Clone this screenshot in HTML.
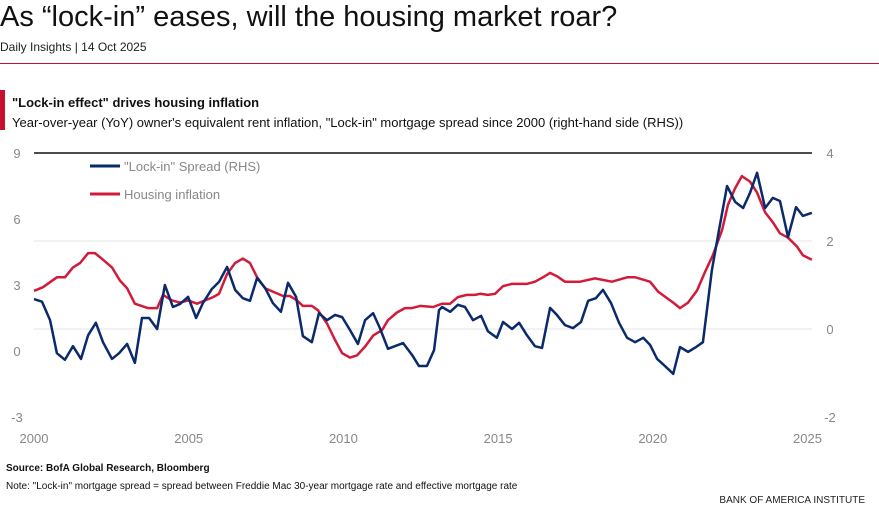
<!DOCTYPE html>
<html><head><meta charset="utf-8"><style>
body{margin:0;width:879px;height:522px;background:#fff;font-family:"Liberation Sans",sans-serif;overflow:hidden;position:relative}
.t{position:absolute;white-space:nowrap}
</style></head><body>
<div class="t" style="left:0;top:1px;font-size:29px;color:#111">As “lock-in” eases, will the housing market roar?</div>
<div class="t" style="left:0;top:40px;font-size:12px;color:#222">Daily Insights | 14 Oct 2025</div>
<div style="position:absolute;left:0;top:63px;width:879px;height:1px;background:#c8102e"></div>
<div style="position:absolute;left:0;top:90px;width:5px;height:40px;background:#c8102e"></div>
<div class="t" style="left:12px;top:95px;font-size:13px;font-weight:bold;color:#111">"Lock-in effect" drives housing inflation</div>
<div class="t" style="left:12px;top:115px;font-size:13px;color:#111">Year-over-year (YoY) owner's equivalent rent inflation, "Lock-in" mortgage spread since 2000 (right-hand side (RHS))</div>
<svg id="chart" width="879" height="522" style="position:absolute;left:0;top:0"></svg>
<div class="t" style="left:6px;top:463px;font-size:10px;font-weight:bold;color:#111">Source: BofA Global Research, Bloomberg</div>
<div class="t" style="left:6px;top:481px;font-size:10px;color:#111">Note: "Lock-in" mortgage spread = spread between Freddie Mac 30-year mortgage rate and effective mortgage rate</div>
<div class="t" style="right:14px;top:495px;font-size:10px;color:#222">BANK OF AMERICA INSTITUTE</div>
<script>
const redT=[0,.29,.74,1.00,1.26,1.49,1.75,1.97,2.23,2.52,2.78,3.01,3.26,3.68,3.98,4.17,4.46,4.72,4.98,5.27,5.53,5.79,5.98,6.24,6.50,6.75,6.98,7.21,7.47,7.72,8.05,8.27,8.50,8.69,8.98,9.18,9.47,9.73,9.96,10.21,10.44,10.70,10.96,11.25,11.44,11.73,11.99,12.22,12.48,12.90,13.19,13.45,13.70,13.99,14.25,14.42,14.67,14.90,15.16,15.45,15.93,16.19,16.45,16.68,16.90,17.16,17.65,18.13,18.68,19.17,19.43,19.91,20.17,20.66,20.88,21.14,21.43,21.69,21.94,22.24,22.43,22.66,22.88,23.14,23.37,23.63,23.88,24.11,24.37,24.66,24.85,25.14];
const redV=[2.73,2.9,3.35,3.35,3.8,4.0,4.45,4.45,4.15,3.8,3.2,2.85,2.15,1.95,1.95,2.55,2.3,2.2,2.3,2.15,2.3,2.45,2.6,3.5,4.0,4.2,4.0,3.35,2.85,2.7,2.5,2.5,2.3,2.05,2.05,1.85,1.25,0.5,-0.1,-0.3,-0.2,0.2,0.7,0.95,1.4,1.75,1.95,1.95,2.05,2.0,2.15,2.15,2.45,2.55,2.55,2.6,2.55,2.6,2.95,3.05,3.05,3.15,3.35,3.55,3.4,3.15,3.15,3.3,3.15,3.35,3.35,3.15,2.7,2.2,1.95,2.2,2.75,3.6,4.35,5.5,6.65,7.4,7.95,7.7,7.2,6.3,5.85,5.35,5.15,4.75,4.35,4.15];
const blueT=[0,.26,.52,.74,1.00,1.26,1.52,1.75,2.00,2.23,2.52,2.75,3.01,3.26,3.49,3.72,3.98,4.23,4.49,4.72,4.98,5.24,5.46,5.75,5.98,6.24,6.50,6.75,6.98,7.21,7.47,7.72,7.98,8.21,8.47,8.69,8.98,9.21,9.47,9.73,9.96,10.21,10.47,10.70,10.96,11.18,11.44,11.93,12.22,12.44,12.70,12.93,13.09,13.19,13.45,13.70,13.93,14.19,14.45,14.67,14.96,15.16,15.45,15.68,15.93,16.19,16.42,16.68,16.90,17.16,17.42,17.68,17.91,18.16,18.39,18.65,18.91,19.17,19.43,19.69,19.91,20.14,20.39,20.66,20.88,21.14,21.40,21.62,21.91,22.14,22.40,22.66,22.92,23.14,23.37,23.63,23.88,24.11,24.37,24.63,24.85,25.14];
const blueV=[0.68,0.62,0.2,-0.55,-0.7,-0.39,-0.68,-0.14,0.14,-0.3,-0.68,-0.55,-0.34,-0.77,0.25,0.25,0,1.0,0.5,0.57,0.73,0.25,0.59,0.91,1.07,1.41,0.89,0.7,0.64,1.16,0.93,0.59,0.39,1.05,0.73,-0.16,-0.3,0.36,0.2,0.32,0.27,-0.02,-0.34,0.2,0.36,0.02,-0.45,-0.32,-0.59,-0.84,-0.84,-0.48,0.43,0.5,0.39,0.55,0.5,0.2,0.3,-0.05,-0.2,0.16,0,0.14,-0.14,-0.39,-0.43,0.48,0.32,0.09,0.02,0.16,0.64,0.7,0.89,0.59,0.14,-0.2,-0.3,-0.2,-0.36,-0.68,-0.84,-1.02,-0.41,-0.52,-0.41,-0.3,1.34,2.25,3.25,2.89,2.75,3.09,3.55,2.75,2.98,2.91,2.09,2.77,2.57,2.64];
const leftTicks=[9,6,3,0,-3];
const rightTicks=[4,2,0,-2];
const xTicks=[2000,2005,2010,2015,2020,2025];
const X=t=>34+t*30.94, YL=v=>351-22*v, YR=v=>329-44*v;
const svg=document.getElementById('chart');const NS='http://www.w3.org/2000/svg';
function mk(tag,a,txt){const e=document.createElementNS(NS,tag);for(const k in a)e.setAttribute(k,a[k]);if(txt!=null)e.textContent=txt;svg.appendChild(e);return e;}
rightTicks.forEach(v=>{if(v===4||v===-2)return;const g=mk('line',{x1:34,x2:812,y1:YR(v),y2:YR(v),stroke:'#e3e3e3','stroke-width':1});

});
const topRule=mk('line',{x1:34,x2:812,y1:YR(4),y2:YR(4),stroke:'#111','stroke-width':1.5});


leftTicks.forEach(v=>{const t=mk('text',{x:17,y:YL(v)+5,'text-anchor':'middle','font-size':13,fill:'#888','font-family':'Liberation Sans'},v);

});
rightTicks.forEach(v=>{const t=mk('text',{x:830,y:YR(v)+5,'text-anchor':'middle','font-size':13,fill:'#888','font-family':'Liberation Sans'},v);

});
xTicks.forEach(v=>{const t=mk('text',{x:X(v-2000),y:443,'text-anchor':'middle','font-size':13,fill:'#888','font-family':'Liberation Sans'},v);

});
const rp=mk('polyline',{points:redT.map((t,i)=>X(t)+','+YL(redV[i])).join(' '),fill:'none',stroke:'#d01c3a','stroke-width':2.5,'stroke-linejoin':'round'});


const bp=mk('polyline',{points:blueT.map((t,i)=>X(t)+','+YR(blueV[i])).join(' '),fill:'none',stroke:'#0a2a6b','stroke-width':2.5,'stroke-linejoin':'round'});


const l1=mk('line',{x1:90,x2:120,y1:166,y2:166,stroke:'#0a2a6b','stroke-width':3});


const t1=mk('text',{x:124,y:171,'font-size':13,fill:'#888','font-family':'Liberation Sans'},'"Lock-in" Spread (RHS)');


const l2=mk('line',{x1:90,x2:120,y1:194,y2:194,stroke:'#d01c3a','stroke-width':3});


const t2=mk('text',{x:124,y:199,'font-size':13,fill:'#888','font-family':'Liberation Sans'},'Housing inflation');


</script>
</body></html>
